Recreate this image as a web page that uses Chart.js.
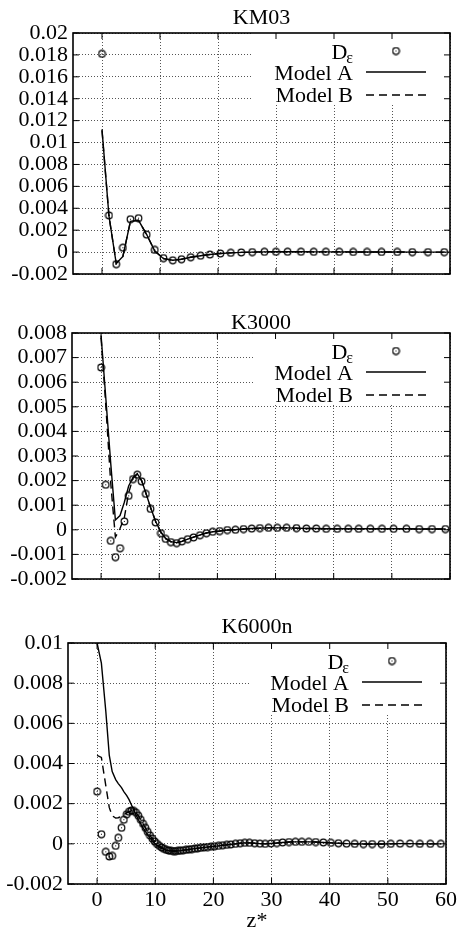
<!DOCTYPE html>
<html>
<head>
<meta charset="utf-8">
<script src="https://cdn.jsdelivr.net/npm/chart.js@4.4.1/dist/chart.umd.min.js"></script>
<style>
  html, body { margin: 0; padding: 0; background: #fff; }
  #wrap { position: relative; width: 460px; height: 934px; }
  .panel { position: absolute; left: 0; width: 460px; }
</style>
</head>
<body>
<div id="wrap">
  <div class="panel" style="top:0;height:300px"><canvas id="cKM03"></canvas></div>
  <div class="panel" style="top:300px;height:300px"><canvas id="cK3000"></canvas></div>
  <div class="panel" style="top:600px;height:334px"><canvas id="cK6000n"></canvas></div>
</div>
<script>
/* ── shared axis ticks ── */
const xTicks = [0, 10, 20, 30, 40, 50, 60];
const yTicksKM03   = [-0.002, 0, 0.002, 0.004, 0.006, 0.008, 0.01, 0.012, 0.014, 0.016, 0.018, 0.02];
const yTicksK3000  = [-0.002, -0.001, 0, 0.001, 0.002, 0.003, 0.004, 0.005, 0.006, 0.007, 0.008];
const yTicksK6000n = [-0.002, 0, 0.002, 0.004, 0.006, 0.008, 0.01];

/* ── KM03 ── */
const zKM03 = [0, 1.2, 2.45, 3.6, 4.9, 6.3, 7.7, 9.1, 10.6, 12.2, 13.7, 15.3, 17.0, 18.6, 20.4, 22.2,
               24.0, 25.9, 28.0, 30.0, 32.0, 34.3, 36.5, 38.6, 40.9, 43.3, 45.7, 48.2, 50.9, 53.5, 56.2, 59.0];
const dKM03 = [0.0181, 0.00335, -0.0011, 0.0004, 0.003, 0.0031, 0.0016, 0.0002, -0.00055, -0.00075, -0.00065,
               -0.00047, -0.00033, -0.00022, -0.00013, -0.00007, -0.00003, 0, 0.00002, 0.00003, 0.00003, 0.00003,
               0.00002, 0.00002, 0.00002, 0.00001, 0.00001, 0.00001, 0.00001, 0, 0, 0];
const aKM03 = [0.0112, 0.0033, -0.00105, -0.0004, 0.0028, 0.0029, 0.0016, 0.0001, -0.0006, -0.00075, -0.00065,
               -0.00047, -0.00033, -0.00022, -0.00013, -0.00007, -0.00003, 0, 0.00002, 0.00003, 0.00003, 0.00003,
               0.00002, 0.00002, 0.00002, 0.00001, 0.00001, 0.00001, 0.00001, 0, 0, 0];
const bKM03 = [0.0111, 0.0033, -0.00105, -0.0004, 0.0028, 0.0029, 0.0016, 0.0001, -0.0006, -0.00075, -0.00065,
               -0.00047, -0.00033, -0.00022, -0.00013, -0.00007, -0.00003, 0, 0.00002, 0.00003, 0.00003, 0.00003,
               0.00002, 0.00002, 0.00002, 0.00001, 0.00001, 0.00001, 0.00001, 0, 0, 0];

/* ── K3000 ── */
const zK3000 = [0, 0.8, 1.66, 2.46, 3.26, 4.0, 4.74, 5.49, 6.23, 6.97, 7.7, 8.5, 9.37, 10.3, 11.1, 12.0, 13.0,
                13.9, 14.9, 15.9, 17.0, 18.1, 19.2, 20.4, 21.7, 23.1, 24.5, 25.9, 27.3, 28.8, 30.3, 31.9, 33.6,
                35.3, 37.0, 38.7, 40.6, 42.5, 44.3, 46.3, 48.3, 50.3, 52.5, 54.7, 56.9, 59.2];
const dK3000 = [0.0066, 0.00183, -0.00045, -0.00111, -0.00075, 0.00034, 0.00138, 0.00206, 0.00224, 0.00197,
                0.00146, 0.00085, 0.0003, -0.00014, -0.00037, -0.0005, -0.00054, -0.00047, -0.00038, -0.00031,
                -0.00022, -0.00014, -0.00008, -0.00005, -0.00001, 0, 0.00003, 0.00005, 0.00007, 0.00008, 0.00008,
                0.00008, 0.00007, 0.00005, 0.00005, 0.00004, 0.00004, 0.00004, 0.00004, 0.00004, 0.00004, 0.00004,
                0.00004, 0.00003, 0.00003, 0.00003];
const aK3000 = [0.0079, 0.0054, 0.0027, 0.0004, 0.00058, 0.00112, 0.00178, 0.00213, 0.00228, 0.002,
                0.0015, 0.00092, 0.00035, -0.0001, -0.00035, -0.00048, -0.00052, -0.00047, -0.00038, -0.0003,
                -0.00021, -0.00013, -0.00008, -0.00005, -0.00001, 0, 0.00003, 0.00005, 0.00007, 0.00008, 0.00008,
                0.00008, 0.00007, 0.00005, 0.00005, 0.00004, 0.00004, 0.00004, 0.00004, 0.00004, 0.00004, 0.00004,
                0.00004, 0.00003, 0.00003, 0.00003];
const bK3000 = [0.0078, 0.0051, 0.0019, -0.0003, 0.00005, 0.0005, 0.0015, 0.0021, 0.00227, 0.002,
                0.0015, 0.00092, 0.00035, -0.0001, -0.00035, -0.00048, -0.00052, -0.00047, -0.00038, -0.0003,
                -0.00021, -0.00013, -0.00008, -0.00005, -0.00001, 0, 0.00003, 0.00005, 0.00007, 0.00008, 0.00008,
                0.00008, 0.00007, 0.00005, 0.00005, 0.00004, 0.00004, 0.00004, 0.00004, 0.00004, 0.00004, 0.00004,
                0.00004, 0.00003, 0.00003, 0.00003];

/* ── K6000n ── */
const zK6000n = [0, 0.74, 1.5, 2.1, 2.6, 3.2, 3.65, 4.2, 4.6, 5.1, 5.5, 5.9, 6.3, 6.7, 7.1, 7.5, 7.9, 8.3, 8.7,
                 9.1, 9.5, 9.9, 10.3, 10.7, 11.1, 11.5, 11.9, 12.3, 12.7, 13.1, 13.5, 13.9, 14.3, 14.8, 15.3,
                 15.8, 16.3, 16.8, 17.3, 17.8, 18.4, 19.0, 19.6, 20.2, 20.9, 21.6, 22.3, 23.0, 23.8, 24.6, 25.4,
                 26.2, 27.1, 28.0, 28.9, 29.9, 30.9, 31.9, 33.0, 34.1, 35.2, 36.4, 37.6, 38.9, 40.2, 41.5, 42.9,
                 44.3, 45.8, 47.3, 48.9, 50.5, 52.1, 53.8, 55.5, 57.3, 59.1];
const dK6000n = [0.0026, 0.00048, -0.0004, -0.00063, -0.0006, -0.0001, 0.0003, 0.0008, 0.0012, 0.00147, 0.0016,
                 0.00166, 0.00164, 0.00155, 0.0014, 0.0012, 0.001, 0.0008, 0.0006, 0.00042, 0.00026, 0.00012, 0,
                 -0.0001, -0.00018, -0.00025, -0.0003, -0.00033, -0.00035, -0.00036, -0.00036, -0.00035, -0.00034,
                 -0.00032, -0.0003, -0.00028, -0.00026, -0.00024, -0.00022, -0.0002, -0.00018, -0.00016, -0.00014,
                 -0.00012, -0.0001, -0.00007, -0.00005, -0.00003, 0, 0.00003, 0.00005, 0.00005, 0.00003, 0.00001,
                 0, 0.00002, 0.00004, 0.00007, 0.00009, 0.0001, 0.0001, 0.0001, 0.00009, 0.00007, 0.00005, 0.00003,
                 0.00001, 0, -0.00001, -0.00001, -0.00001, 0, 0.00001, 0.00001, 0, 0, 0];
const aK6000n = [0.01, 0.009, 0.0066, 0.0044, 0.0036, 0.0032, 0.003, 0.0028, 0.0026, 0.0024, 0.0022,
                 0.00195, 0.0017, 0.00145, 0.0012, 0.001, 0.0008, 0.00062, 0.00045, 0.0003, 0.00015, 0.00003,
                 -0.00008, -0.00016, -0.00023, -0.00028, -0.00032, -0.00034, -0.00035, -0.00036, -0.00036, -0.00035,
                 -0.00034, -0.00032, -0.0003, -0.00028, -0.00026, -0.00024, -0.00022, -0.0002, -0.00018, -0.00016,
                 -0.00014, -0.00012, -0.0001, -0.00007, -0.00005, -0.00003, 0, 0.00003, 0.00005, 0.00005, 0.00003,
                 0.00001, 0, 0.00002, 0.00004, 0.00007, 0.00009, 0.0001, 0.0001, 0.0001, 0.00009, 0.00007, 0.00005,
                 0.00003, 0.00001, 0, -0.00001, -0.00001, -0.00001, 0, 0.00001, 0.00001, 0, 0, 0];
const bK6000n = [0.0044, 0.0043, 0.0029, 0.0018, 0.0014, 0.00128, 0.0013, 0.00138, 0.00145, 0.00155, 0.0016,
                 0.00163, 0.00162, 0.00155, 0.0014, 0.0012, 0.001, 0.0008, 0.0006, 0.00042, 0.00026, 0.00012, 0,
                 -0.0001, -0.00018, -0.00025, -0.0003, -0.00033, -0.00035, -0.00036, -0.00036, -0.00035, -0.00034,
                 -0.00032, -0.0003, -0.00028, -0.00026, -0.00024, -0.00022, -0.0002, -0.00018, -0.00016, -0.00014,
                 -0.00012, -0.0001, -0.00007, -0.00005, -0.00003, 0, 0.00003, 0.00005, 0.00005, 0.00003, 0.00001,
                 0, 0.00002, 0.00004, 0.00007, 0.00009, 0.0001, 0.0001, 0.0001, 0.00009, 0.00007, 0.00005, 0.00003,
                 0.00001, 0, -0.00001, -0.00001, -0.00001, 0, 0.00001, 0.00001, 0, 0, 0];

const FONT = 'Liberation Serif, Times New Roman, serif';
const FS = 22;
Chart.defaults.font.family = FONT;
Chart.defaults.font.size = FS;
Chart.defaults.color = '#000';

/* open circle with a centre dot, used for D markers */
function ringDot() {
    const c = document.createElement('canvas');
    c.width = c.height = 9;
    const g = c.getContext('2d');
    g.strokeStyle = '#000'; g.lineWidth = 1.2;
    g.beginPath(); g.arc(4.5, 4.5, 3.3, 0, Math.PI * 2); g.stroke();
    g.fillStyle = '#000'; g.fillRect(4, 4, 1, 1);
    return c;
}
const ring = ringDot();
const DASH = [8, 5];

/* frame, inward ticks, title and in-plot key */
const panelDeco = {
    id: 'panelDeco',
    beforeDatasetsDraw(chart) {
        const { ctx, chartArea: a } = chart;
        ctx.save();
        ctx.fillStyle = '#fff';
        ctx.fillRect(a.right - 197, a.top, 197, 72);
        ctx.restore();
    },
    afterDraw(chart, args, o) {
        const { ctx, chartArea: a, scales: { x, y } } = chart;
        const seg = (x1, y1, x2, y2) => { ctx.beginPath(); ctx.moveTo(x1, y1); ctx.lineTo(x2, y2); ctx.stroke(); };
        ctx.save();
        ctx.strokeStyle = '#000';
        ctx.lineWidth = 1;
        x.ticks.forEach(t => { const p = x.getPixelForValue(t.value); seg(p, a.bottom, p, a.bottom - 6); seg(p, a.top, p, a.top + 6); });
        y.ticks.forEach(t => { const p = y.getPixelForValue(t.value); seg(a.left, p, a.left + 6, p); seg(a.right, p, a.right - 6, p); });
        ctx.lineWidth = 1.6;
        ctx.strokeRect(a.left, a.top, a.right - a.left, a.bottom - a.top);

        ctx.fillStyle = '#000';
        ctx.font = FS + 'px ' + FONT;
        ctx.textAlign = 'center';
        ctx.textBaseline = 'alphabetic';
        ctx.fillText(o.title, (a.left + a.right) / 2, o.titleY);

        // key
        const tr = a.right - 97;
        ctx.textAlign = 'right';
        ctx.font = '16px ' + FONT;
        const ew = ctx.measureText('ε').width;
        ctx.fillText('ε', tr, a.top + 30);
        ctx.font = FS + 'px ' + FONT;
        ctx.fillText('D', tr - ew + 1, a.top + 26);
        ctx.fillText('Model A', tr, a.top + 47);
        ctx.fillText('Model B', tr, a.top + 69);
        ctx.drawImage(ring, a.right - 58.5, a.top + 13.5);
        ctx.lineWidth = 1.4;
        seg(a.right - 84, a.top + 39, a.right - 24, a.top + 39);
        ctx.setLineDash(DASH);
        seg(a.right - 84, a.top + 62, a.right - 24, a.top + 62);
        ctx.restore();
    }
};

function makePanel(id, p) {
    const pts = ys => p.z.map((z, i) => ({ x: z, y: ys[i] }));
    return new Chart(document.getElementById(id), {
        type: 'scatter',
        data: {
            datasets: [
                { label: 'Model A', data: pts(p.a), showLine: true, borderColor: '#000', borderWidth: 1.4, pointRadius: 0, order: 2 },
                { label: 'Model B', data: pts(p.b), showLine: true, borderColor: '#000', borderWidth: 1.4, borderDash: DASH, pointRadius: 0, order: 1 },
                { label: 'D', data: pts(p.d), pointStyle: ring, pointRadius: 4, order: 0 },
            ]
        },
        options: {
            responsive: true,
            maintainAspectRatio: false,
            animation: false,
            layout: { padding: { top: p.top, right: 460 - p.right, left: 0, bottom: 0 } },
            plugins: {
                legend: { display: false },
                tooltip: { enabled: false },
                panelDeco: { title: p.title, titleY: p.titleY }
            },
            scales: {
                x: {
                    type: 'linear', min: -5, max: 60,
                    afterBuildTicks: s => { s.ticks = xTicks.map(v => ({ value: v })); },
                    afterFit: s => { s.height = p.xHeight; },
                    grid: { color: '#555', lineWidth: 1, drawTicks: false },
                    border: { display: false, dash: [1, 2] },
                    ticks: { display: p.showX, padding: 3, maxRotation: 0, autoSkip: false },
                    title: { display: p.showX, text: 'z*', padding: 0 }
                },
                y: {
                    type: 'linear', min: p.yTicks[0], max: p.yTicks[p.yTicks.length - 1],
                    afterBuildTicks: s => { s.ticks = p.yTicks.map(v => ({ value: v })); },
                    afterFit: s => { s.width = p.left; },
                    grid: { color: '#555', lineWidth: 1, drawTicks: false },
                    border: { display: false, dash: [1, 2] },
                    ticks: { padding: 5, autoSkip: false, callback: v => String(+v.toFixed(3)) }
                }
            }
        },
        plugins: [panelDeco]
    });
}

makePanel('cKM03',   { title: 'KM03',   titleY: 24, top: 33, left: 73, right: 450, xHeight: 26, showX: false,
                        z: zKM03, d: dKM03, a: aKM03, b: bKM03, yTicks: yTicksKM03 });
makePanel('cK3000',  { title: 'K3000',  titleY: 29, top: 33, left: 72, right: 450, xHeight: 21, showX: false,
                        z: zK3000, d: dK3000, a: aK3000, b: bK3000, yTicks: yTicksK3000 });
makePanel('cK6000n', { title: 'K6000n', titleY: 33, top: 43, left: 68, right: 449, xHeight: 50, showX: true,
                        z: zK6000n, d: dK6000n, a: aK6000n, b: bK6000n, yTicks: yTicksK6000n });
</script>
</body>
</html>
